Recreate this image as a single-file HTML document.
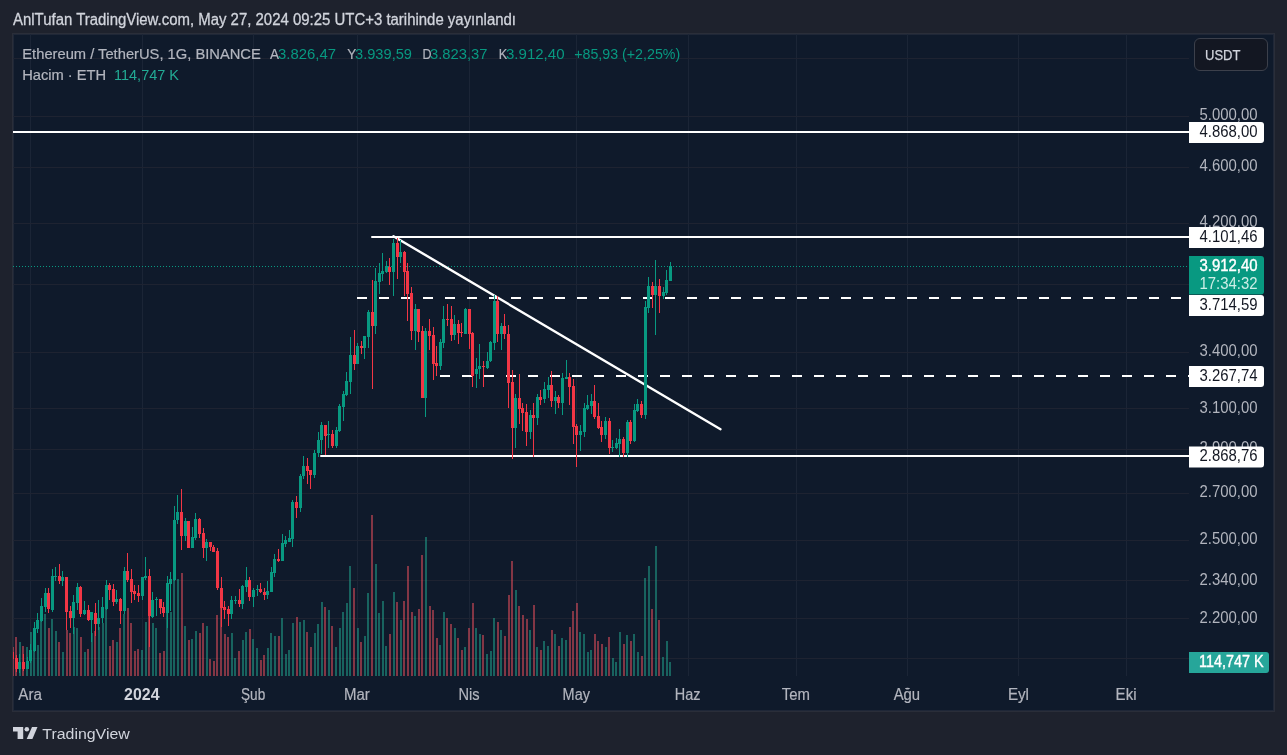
<!DOCTYPE html>
<html><head><meta charset="utf-8">
<style>
html,body{margin:0;padding:0;}
body{width:1287px;height:755px;background:#1e222d;overflow:hidden;position:relative;font-family:"Liberation Sans", Arial, sans-serif;}
.frame{position:absolute;left:12px;top:33px;width:1261px;height:677px;border:1px solid #2a2e39;background:#0f1a2b;box-shadow:inset 0 0 0 1px #1f2737;}
svg{position:absolute;left:0;top:0;}
svg text{font-family:"Liberation Sans", Arial, sans-serif;}
.ax{font-size:16px;fill:#b2b5be;}
.lb{font-size:16px;fill:#131722;}
.lw{font-size:16px;fill:#ffffff;}
.lwb{font-size:16px;fill:#ffffff;stroke:#ffffff;stroke-width:0.4px;}
.lw2{font-size:16px;fill:#cdeee6;}
.tt{font-size:16px;fill:#b2b5be;stroke:#b2b5be;stroke-width:0.2px;}
.tb{font-size:16px;fill:#d1d4dc;font-weight:bold;}
.lg{font-size:14.5px;fill:#b2b5be;stroke:#b2b5be;stroke-width:0.2px;}
.ttl{font-size:16px;fill:#d1d4dc;stroke:#d1d4dc;stroke-width:0.3px;}
.logo{font-size:15.5px;fill:#d1d4dc;}
.usdtt{font-size:15.5px;fill:#d1d4dc;stroke:#d1d4dc;stroke-width:0.25px;}
.lgv2{font-size:14.5px;fill:#22ab94;}
.lgv{font-size:14.5px;fill:#089981;}
.usdt{position:absolute;left:1193.5px;top:38px;width:72px;height:30.5px;border:1.5px solid #3c404b;border-radius:6px;background:#131722;}
</style></head><body>
<div class="frame"></div>
<div class="usdt"></div>
<svg width="1287" height="755" viewBox="0 0 1287 755">
<defs><clipPath id="pane"><rect x="13" y="34" width="1176" height="642"/></clipPath></defs>
<g><line x1="30.5" y1="34" x2="30.5" y2="676" stroke="#1b2536" stroke-width="1"/>
<line x1="142.5" y1="34" x2="142.5" y2="676" stroke="#1b2536" stroke-width="1"/>
<line x1="253.5" y1="34" x2="253.5" y2="676" stroke="#1b2536" stroke-width="1"/>
<line x1="357.5" y1="34" x2="357.5" y2="676" stroke="#1b2536" stroke-width="1"/>
<line x1="469.5" y1="34" x2="469.5" y2="676" stroke="#1b2536" stroke-width="1"/>
<line x1="576.5" y1="34" x2="576.5" y2="676" stroke="#1b2536" stroke-width="1"/>
<line x1="688.5" y1="34" x2="688.5" y2="676" stroke="#1b2536" stroke-width="1"/>
<line x1="796.5" y1="34" x2="796.5" y2="676" stroke="#1b2536" stroke-width="1"/>
<line x1="907.5" y1="34" x2="907.5" y2="676" stroke="#1b2536" stroke-width="1"/>
<line x1="1018.5" y1="34" x2="1018.5" y2="676" stroke="#1b2536" stroke-width="1"/>
<line x1="1126.5" y1="34" x2="1126.5" y2="676" stroke="#1b2536" stroke-width="1"/>
<line x1="13" y1="58.5" x2="1189" y2="58.5" stroke="#1e2331" stroke-width="1"/>
<line x1="13" y1="116.5" x2="1189" y2="116.5" stroke="#1e2331" stroke-width="1"/>
<line x1="13" y1="167.5" x2="1189" y2="167.5" stroke="#1e2331" stroke-width="1"/>
<line x1="13" y1="223.5" x2="1189" y2="223.5" stroke="#1e2331" stroke-width="1"/>
<line x1="13" y1="284.5" x2="1189" y2="284.5" stroke="#1e2331" stroke-width="1"/>
<line x1="13" y1="352.5" x2="1189" y2="352.5" stroke="#1e2331" stroke-width="1"/>
<line x1="13" y1="408.5" x2="1189" y2="408.5" stroke="#1e2331" stroke-width="1"/>
<line x1="13" y1="449.5" x2="1189" y2="449.5" stroke="#1e2331" stroke-width="1"/>
<line x1="13" y1="493.5" x2="1189" y2="493.5" stroke="#1e2331" stroke-width="1"/>
<line x1="13" y1="540.5" x2="1189" y2="540.5" stroke="#1e2331" stroke-width="1"/>
<line x1="13" y1="580.5" x2="1189" y2="580.5" stroke="#1e2331" stroke-width="1"/>
<line x1="13" y1="618.5" x2="1189" y2="618.5" stroke="#1e2331" stroke-width="1"/>
<line x1="13" y1="658.5" x2="1189" y2="658.5" stroke="#1e2331" stroke-width="1"/></g>
<g clip-path="url(#pane)">
<g shape-rendering="crispEdges"><rect x="12" y="647" width="2" height="29" fill="rgba(247,82,95,0.5)"/>
<rect x="15" y="637" width="2" height="39" fill="rgba(247,82,95,0.5)"/>
<rect x="19" y="642" width="2" height="34" fill="rgba(34,171,148,0.5)"/>
<rect x="22" y="646" width="2" height="30" fill="rgba(247,82,95,0.5)"/>
<rect x="26" y="647" width="2" height="29" fill="rgba(34,171,148,0.5)"/>
<rect x="30" y="632" width="2" height="44" fill="rgba(34,171,148,0.5)"/>
<rect x="33" y="635" width="2" height="41" fill="rgba(34,171,148,0.5)"/>
<rect x="37" y="645" width="2" height="31" fill="rgba(34,171,148,0.5)"/>
<rect x="40" y="620" width="2" height="56" fill="rgba(34,171,148,0.5)"/>
<rect x="44" y="614" width="2" height="62" fill="rgba(34,171,148,0.5)"/>
<rect x="48" y="628" width="2" height="48" fill="rgba(247,82,95,0.5)"/>
<rect x="51" y="619" width="2" height="57" fill="rgba(34,171,148,0.5)"/>
<rect x="55" y="631" width="2" height="45" fill="rgba(34,171,148,0.5)"/>
<rect x="58" y="642" width="2" height="34" fill="rgba(247,82,95,0.5)"/>
<rect x="62" y="652" width="2" height="24" fill="rgba(34,171,148,0.5)"/>
<rect x="66" y="630" width="2" height="46" fill="rgba(247,82,95,0.5)"/>
<rect x="69" y="633" width="2" height="43" fill="rgba(247,82,95,0.5)"/>
<rect x="73" y="627" width="2" height="49" fill="rgba(34,171,148,0.5)"/>
<rect x="76" y="628" width="2" height="48" fill="rgba(34,171,148,0.5)"/>
<rect x="80" y="637" width="2" height="39" fill="rgba(247,82,95,0.5)"/>
<rect x="84" y="652" width="2" height="24" fill="rgba(34,171,148,0.5)"/>
<rect x="87" y="649" width="2" height="27" fill="rgba(247,82,95,0.5)"/>
<rect x="91" y="633" width="2" height="43" fill="rgba(34,171,148,0.5)"/>
<rect x="94" y="631" width="2" height="45" fill="rgba(247,82,95,0.5)"/>
<rect x="98" y="627" width="2" height="49" fill="rgba(34,171,148,0.5)"/>
<rect x="102" y="623" width="2" height="53" fill="rgba(34,171,148,0.5)"/>
<rect x="105" y="608" width="2" height="68" fill="rgba(34,171,148,0.5)"/>
<rect x="109" y="646" width="2" height="30" fill="rgba(247,82,95,0.5)"/>
<rect x="112" y="640" width="2" height="36" fill="rgba(247,82,95,0.5)"/>
<rect x="116" y="642" width="2" height="34" fill="rgba(34,171,148,0.5)"/>
<rect x="119" y="628" width="2" height="48" fill="rgba(247,82,95,0.5)"/>
<rect x="123" y="614" width="2" height="62" fill="rgba(34,171,148,0.5)"/>
<rect x="127" y="608" width="2" height="68" fill="rgba(247,82,95,0.5)"/>
<rect x="130" y="623" width="2" height="53" fill="rgba(247,82,95,0.5)"/>
<rect x="134" y="651" width="2" height="25" fill="rgba(247,82,95,0.5)"/>
<rect x="137" y="649" width="2" height="27" fill="rgba(247,82,95,0.5)"/>
<rect x="141" y="650" width="2" height="26" fill="rgba(34,171,148,0.5)"/>
<rect x="145" y="622" width="2" height="54" fill="rgba(34,171,148,0.5)"/>
<rect x="148" y="590" width="2" height="86" fill="rgba(247,82,95,0.5)"/>
<rect x="152" y="623" width="2" height="53" fill="rgba(34,171,148,0.5)"/>
<rect x="155" y="628" width="2" height="48" fill="rgba(34,171,148,0.5)"/>
<rect x="159" y="653" width="2" height="23" fill="rgba(247,82,95,0.5)"/>
<rect x="163" y="651" width="2" height="25" fill="rgba(247,82,95,0.5)"/>
<rect x="166" y="605" width="2" height="71" fill="rgba(34,171,148,0.5)"/>
<rect x="170" y="612" width="2" height="64" fill="rgba(34,171,148,0.5)"/>
<rect x="173" y="572" width="2" height="104" fill="rgba(34,171,148,0.5)"/>
<rect x="177" y="579" width="2" height="97" fill="rgba(34,171,148,0.5)"/>
<rect x="181" y="573" width="2" height="103" fill="rgba(247,82,95,0.5)"/>
<rect x="184" y="626" width="2" height="50" fill="rgba(34,171,148,0.5)"/>
<rect x="188" y="640" width="2" height="36" fill="rgba(247,82,95,0.5)"/>
<rect x="191" y="639" width="2" height="37" fill="rgba(34,171,148,0.5)"/>
<rect x="195" y="631" width="2" height="45" fill="rgba(34,171,148,0.5)"/>
<rect x="199" y="633" width="2" height="43" fill="rgba(247,82,95,0.5)"/>
<rect x="202" y="623" width="2" height="53" fill="rgba(247,82,95,0.5)"/>
<rect x="206" y="626" width="2" height="50" fill="rgba(34,171,148,0.5)"/>
<rect x="209" y="659" width="2" height="17" fill="rgba(247,82,95,0.5)"/>
<rect x="213" y="661" width="2" height="15" fill="rgba(247,82,95,0.5)"/>
<rect x="216" y="615" width="2" height="61" fill="rgba(247,82,95,0.5)"/>
<rect x="220" y="595" width="2" height="81" fill="rgba(247,82,95,0.5)"/>
<rect x="224" y="634" width="2" height="42" fill="rgba(247,82,95,0.5)"/>
<rect x="227" y="637" width="2" height="39" fill="rgba(247,82,95,0.5)"/>
<rect x="231" y="633" width="2" height="43" fill="rgba(34,171,148,0.5)"/>
<rect x="234" y="658" width="2" height="18" fill="rgba(34,171,148,0.5)"/>
<rect x="238" y="651" width="2" height="25" fill="rgba(247,82,95,0.5)"/>
<rect x="242" y="640" width="2" height="36" fill="rgba(34,171,148,0.5)"/>
<rect x="245" y="632" width="2" height="44" fill="rgba(34,171,148,0.5)"/>
<rect x="249" y="629" width="2" height="47" fill="rgba(247,82,95,0.5)"/>
<rect x="252" y="639" width="2" height="37" fill="rgba(34,171,148,0.5)"/>
<rect x="256" y="648" width="2" height="28" fill="rgba(34,171,148,0.5)"/>
<rect x="260" y="660" width="2" height="16" fill="rgba(247,82,95,0.5)"/>
<rect x="263" y="655" width="2" height="21" fill="rgba(247,82,95,0.5)"/>
<rect x="267" y="648" width="2" height="28" fill="rgba(34,171,148,0.5)"/>
<rect x="270" y="633" width="2" height="43" fill="rgba(34,171,148,0.5)"/>
<rect x="274" y="636" width="2" height="40" fill="rgba(34,171,148,0.5)"/>
<rect x="278" y="636" width="2" height="40" fill="rgba(247,82,95,0.5)"/>
<rect x="281" y="618" width="2" height="58" fill="rgba(34,171,148,0.5)"/>
<rect x="285" y="654" width="2" height="22" fill="rgba(34,171,148,0.5)"/>
<rect x="288" y="650" width="2" height="26" fill="rgba(34,171,148,0.5)"/>
<rect x="292" y="623" width="2" height="53" fill="rgba(34,171,148,0.5)"/>
<rect x="296" y="617" width="2" height="59" fill="rgba(247,82,95,0.5)"/>
<rect x="299" y="622" width="2" height="54" fill="rgba(34,171,148,0.5)"/>
<rect x="303" y="620" width="2" height="56" fill="rgba(34,171,148,0.5)"/>
<rect x="306" y="632" width="2" height="44" fill="rgba(247,82,95,0.5)"/>
<rect x="310" y="647" width="2" height="29" fill="rgba(247,82,95,0.5)"/>
<rect x="314" y="633" width="2" height="43" fill="rgba(34,171,148,0.5)"/>
<rect x="317" y="624" width="2" height="52" fill="rgba(34,171,148,0.5)"/>
<rect x="321" y="602" width="2" height="74" fill="rgba(34,171,148,0.5)"/>
<rect x="324" y="607" width="2" height="69" fill="rgba(247,82,95,0.5)"/>
<rect x="328" y="610" width="2" height="66" fill="rgba(34,171,148,0.5)"/>
<rect x="331" y="626" width="2" height="50" fill="rgba(247,82,95,0.5)"/>
<rect x="335" y="647" width="2" height="29" fill="rgba(34,171,148,0.5)"/>
<rect x="339" y="628" width="2" height="48" fill="rgba(34,171,148,0.5)"/>
<rect x="342" y="612" width="2" height="64" fill="rgba(34,171,148,0.5)"/>
<rect x="346" y="603" width="2" height="73" fill="rgba(34,171,148,0.5)"/>
<rect x="349" y="566" width="2" height="110" fill="rgba(34,171,148,0.5)"/>
<rect x="353" y="588" width="2" height="88" fill="rgba(247,82,95,0.5)"/>
<rect x="357" y="628" width="2" height="48" fill="rgba(34,171,148,0.5)"/>
<rect x="360" y="642" width="2" height="34" fill="rgba(247,82,95,0.5)"/>
<rect x="364" y="636" width="2" height="40" fill="rgba(34,171,148,0.5)"/>
<rect x="367" y="593" width="2" height="83" fill="rgba(34,171,148,0.5)"/>
<rect x="371" y="515" width="2" height="161" fill="rgba(247,82,95,0.5)"/>
<rect x="375" y="564" width="2" height="112" fill="rgba(34,171,148,0.5)"/>
<rect x="378" y="613" width="2" height="63" fill="rgba(34,171,148,0.5)"/>
<rect x="382" y="601" width="2" height="75" fill="rgba(34,171,148,0.5)"/>
<rect x="385" y="646" width="2" height="30" fill="rgba(34,171,148,0.5)"/>
<rect x="389" y="634" width="2" height="42" fill="rgba(247,82,95,0.5)"/>
<rect x="393" y="592" width="2" height="84" fill="rgba(34,171,148,0.5)"/>
<rect x="396" y="602" width="2" height="74" fill="rgba(247,82,95,0.5)"/>
<rect x="400" y="620" width="2" height="56" fill="rgba(34,171,148,0.5)"/>
<rect x="403" y="601" width="2" height="75" fill="rgba(247,82,95,0.5)"/>
<rect x="407" y="566" width="2" height="110" fill="rgba(247,82,95,0.5)"/>
<rect x="411" y="612" width="2" height="64" fill="rgba(247,82,95,0.5)"/>
<rect x="414" y="616" width="2" height="60" fill="rgba(34,171,148,0.5)"/>
<rect x="418" y="609" width="2" height="67" fill="rgba(247,82,95,0.5)"/>
<rect x="421" y="555" width="2" height="121" fill="rgba(247,82,95,0.5)"/>
<rect x="425" y="537" width="2" height="139" fill="rgba(34,171,148,0.5)"/>
<rect x="429" y="606" width="2" height="70" fill="rgba(247,82,95,0.5)"/>
<rect x="432" y="610" width="2" height="66" fill="rgba(247,82,95,0.5)"/>
<rect x="436" y="638" width="2" height="38" fill="rgba(247,82,95,0.5)"/>
<rect x="439" y="645" width="2" height="31" fill="rgba(34,171,148,0.5)"/>
<rect x="443" y="612" width="2" height="64" fill="rgba(34,171,148,0.5)"/>
<rect x="446" y="618" width="2" height="58" fill="rgba(247,82,95,0.5)"/>
<rect x="450" y="624" width="2" height="52" fill="rgba(247,82,95,0.5)"/>
<rect x="454" y="628" width="2" height="48" fill="rgba(34,171,148,0.5)"/>
<rect x="457" y="638" width="2" height="38" fill="rgba(247,82,95,0.5)"/>
<rect x="461" y="650" width="2" height="26" fill="rgba(247,82,95,0.5)"/>
<rect x="464" y="647" width="2" height="29" fill="rgba(34,171,148,0.5)"/>
<rect x="468" y="628" width="2" height="48" fill="rgba(247,82,95,0.5)"/>
<rect x="472" y="603" width="2" height="73" fill="rgba(247,82,95,0.5)"/>
<rect x="475" y="628" width="2" height="48" fill="rgba(34,171,148,0.5)"/>
<rect x="479" y="634" width="2" height="42" fill="rgba(34,171,148,0.5)"/>
<rect x="482" y="635" width="2" height="41" fill="rgba(247,82,95,0.5)"/>
<rect x="486" y="654" width="2" height="22" fill="rgba(34,171,148,0.5)"/>
<rect x="490" y="651" width="2" height="25" fill="rgba(34,171,148,0.5)"/>
<rect x="493" y="618" width="2" height="58" fill="rgba(34,171,148,0.5)"/>
<rect x="497" y="622" width="2" height="54" fill="rgba(247,82,95,0.5)"/>
<rect x="500" y="630" width="2" height="46" fill="rgba(34,171,148,0.5)"/>
<rect x="504" y="636" width="2" height="40" fill="rgba(247,82,95,0.5)"/>
<rect x="508" y="595" width="2" height="81" fill="rgba(247,82,95,0.5)"/>
<rect x="511" y="561" width="2" height="115" fill="rgba(247,82,95,0.5)"/>
<rect x="515" y="590" width="2" height="86" fill="rgba(34,171,148,0.5)"/>
<rect x="518" y="606" width="2" height="70" fill="rgba(247,82,95,0.5)"/>
<rect x="522" y="615" width="2" height="61" fill="rgba(247,82,95,0.5)"/>
<rect x="526" y="619" width="2" height="57" fill="rgba(247,82,95,0.5)"/>
<rect x="529" y="630" width="2" height="46" fill="rgba(34,171,148,0.5)"/>
<rect x="533" y="605" width="2" height="71" fill="rgba(247,82,95,0.5)"/>
<rect x="536" y="647" width="2" height="29" fill="rgba(34,171,148,0.5)"/>
<rect x="540" y="650" width="2" height="26" fill="rgba(247,82,95,0.5)"/>
<rect x="543" y="641" width="2" height="35" fill="rgba(34,171,148,0.5)"/>
<rect x="547" y="646" width="2" height="30" fill="rgba(34,171,148,0.5)"/>
<rect x="551" y="630" width="2" height="46" fill="rgba(247,82,95,0.5)"/>
<rect x="554" y="634" width="2" height="42" fill="rgba(34,171,148,0.5)"/>
<rect x="558" y="646" width="2" height="30" fill="rgba(247,82,95,0.5)"/>
<rect x="561" y="638" width="2" height="38" fill="rgba(34,171,148,0.5)"/>
<rect x="565" y="640" width="2" height="36" fill="rgba(34,171,148,0.5)"/>
<rect x="569" y="627" width="2" height="49" fill="rgba(247,82,95,0.5)"/>
<rect x="572" y="611" width="2" height="65" fill="rgba(247,82,95,0.5)"/>
<rect x="576" y="603" width="2" height="73" fill="rgba(247,82,95,0.5)"/>
<rect x="579" y="632" width="2" height="44" fill="rgba(34,171,148,0.5)"/>
<rect x="583" y="634" width="2" height="42" fill="rgba(34,171,148,0.5)"/>
<rect x="587" y="652" width="2" height="24" fill="rgba(34,171,148,0.5)"/>
<rect x="590" y="650" width="2" height="26" fill="rgba(34,171,148,0.5)"/>
<rect x="594" y="634" width="2" height="42" fill="rgba(247,82,95,0.5)"/>
<rect x="597" y="641" width="2" height="35" fill="rgba(247,82,95,0.5)"/>
<rect x="601" y="644" width="2" height="32" fill="rgba(247,82,95,0.5)"/>
<rect x="605" y="647" width="2" height="29" fill="rgba(34,171,148,0.5)"/>
<rect x="608" y="637" width="2" height="39" fill="rgba(247,82,95,0.5)"/>
<rect x="612" y="658" width="2" height="18" fill="rgba(34,171,148,0.5)"/>
<rect x="615" y="662" width="2" height="14" fill="rgba(34,171,148,0.5)"/>
<rect x="619" y="632" width="2" height="44" fill="rgba(34,171,148,0.5)"/>
<rect x="623" y="644" width="2" height="32" fill="rgba(247,82,95,0.5)"/>
<rect x="626" y="635" width="2" height="41" fill="rgba(34,171,148,0.5)"/>
<rect x="630" y="641" width="2" height="35" fill="rgba(247,82,95,0.5)"/>
<rect x="633" y="634" width="2" height="42" fill="rgba(34,171,148,0.5)"/>
<rect x="637" y="652" width="2" height="24" fill="rgba(34,171,148,0.5)"/>
<rect x="641" y="656" width="2" height="20" fill="rgba(247,82,95,0.5)"/>
<rect x="644" y="578" width="2" height="98" fill="rgba(34,171,148,0.5)"/>
<rect x="648" y="566" width="2" height="110" fill="rgba(34,171,148,0.5)"/>
<rect x="651" y="609" width="2" height="67" fill="rgba(247,82,95,0.5)"/>
<rect x="655" y="546" width="2" height="130" fill="rgba(34,171,148,0.5)"/>
<rect x="658" y="620" width="2" height="56" fill="rgba(247,82,95,0.5)"/>
<rect x="662" y="657" width="2" height="19" fill="rgba(34,171,148,0.5)"/>
<rect x="666" y="641" width="2" height="35" fill="rgba(34,171,148,0.5)"/>
<rect x="669" y="662" width="2" height="14" fill="rgba(34,171,148,0.5)"/></g>
<line x1="13" y1="266.5" x2="1189" y2="266.5" stroke="#089981" stroke-width="1" stroke-dasharray="1 2"/>
<line x1="13" y1="132" x2="1189" y2="132" stroke="#ffffff" stroke-width="2"/>
<line x1="372" y1="237" x2="1189" y2="237" stroke="#ffffff" stroke-width="2" stroke-linecap="round"/>
<line x1="357" y1="298" x2="1189" y2="298" stroke="#ffffff" stroke-width="2" stroke-dasharray="10 12"/>
<line x1="440" y1="376" x2="1189" y2="376" stroke="#ffffff" stroke-width="2" stroke-dasharray="10 12"/>
<line x1="321" y1="456" x2="1189" y2="456" stroke="#ffffff" stroke-width="2" stroke-linecap="round"/>
<line x1="393.5" y1="236.2" x2="720.5" y2="429.2" stroke="#ffffff" stroke-width="2.4" stroke-linecap="round"/>
<g shape-rendering="crispEdges"><rect x="12" y="648" width="1" height="12" fill="#f23645"/>
<rect x="11" y="652" width="3" height="7" fill="#f23645"/>
<rect x="16" y="655" width="1" height="17" fill="#f23645"/>
<rect x="15" y="658" width="3" height="11" fill="#f23645"/>
<rect x="19" y="654" width="1" height="19" fill="#089981"/>
<rect x="18" y="662" width="3" height="7" fill="#089981"/>
<rect x="23" y="654" width="1" height="17" fill="#f23645"/>
<rect x="22" y="662" width="3" height="7" fill="#f23645"/>
<rect x="27" y="657" width="1" height="12" fill="#089981"/>
<rect x="26" y="661" width="3" height="8" fill="#089981"/>
<rect x="30" y="644" width="1" height="19" fill="#089981"/>
<rect x="29" y="650" width="3" height="11" fill="#089981"/>
<rect x="34" y="622" width="1" height="30" fill="#089981"/>
<rect x="33" y="628" width="3" height="23" fill="#089981"/>
<rect x="37" y="613" width="1" height="20" fill="#089981"/>
<rect x="36" y="620" width="3" height="9" fill="#089981"/>
<rect x="41" y="598" width="1" height="24" fill="#089981"/>
<rect x="40" y="606" width="3" height="15" fill="#089981"/>
<rect x="45" y="588" width="1" height="24" fill="#089981"/>
<rect x="44" y="593" width="3" height="14" fill="#089981"/>
<rect x="48" y="588" width="1" height="25" fill="#f23645"/>
<rect x="47" y="593" width="3" height="16" fill="#f23645"/>
<rect x="52" y="569" width="1" height="43" fill="#089981"/>
<rect x="51" y="576" width="3" height="34" fill="#089981"/>
<rect x="55" y="567" width="1" height="14" fill="#089981"/>
<rect x="54" y="576" width="3" height="1" fill="#089981"/>
<rect x="59" y="564" width="1" height="20" fill="#f23645"/>
<rect x="58" y="576" width="3" height="5" fill="#f23645"/>
<rect x="62" y="571" width="1" height="15" fill="#089981"/>
<rect x="61" y="577" width="3" height="4" fill="#089981"/>
<rect x="66" y="577" width="1" height="53" fill="#f23645"/>
<rect x="65" y="577" width="3" height="35" fill="#f23645"/>
<rect x="70" y="606" width="1" height="22" fill="#f23645"/>
<rect x="69" y="611" width="3" height="7" fill="#f23645"/>
<rect x="73" y="595" width="1" height="39" fill="#089981"/>
<rect x="72" y="602" width="3" height="16" fill="#089981"/>
<rect x="77" y="583" width="1" height="27" fill="#089981"/>
<rect x="76" y="587" width="3" height="16" fill="#089981"/>
<rect x="80" y="586" width="1" height="31" fill="#f23645"/>
<rect x="79" y="587" width="3" height="27" fill="#f23645"/>
<rect x="84" y="601" width="1" height="14" fill="#089981"/>
<rect x="83" y="610" width="3" height="4" fill="#089981"/>
<rect x="88" y="605" width="1" height="16" fill="#f23645"/>
<rect x="87" y="610" width="3" height="10" fill="#f23645"/>
<rect x="91" y="612" width="1" height="30" fill="#089981"/>
<rect x="90" y="612" width="3" height="8" fill="#089981"/>
<rect x="95" y="603" width="1" height="33" fill="#f23645"/>
<rect x="94" y="613" width="3" height="11" fill="#f23645"/>
<rect x="98" y="600" width="1" height="30" fill="#089981"/>
<rect x="97" y="618" width="3" height="6" fill="#089981"/>
<rect x="102" y="597" width="1" height="26" fill="#089981"/>
<rect x="101" y="607" width="3" height="11" fill="#089981"/>
<rect x="106" y="580" width="1" height="30" fill="#089981"/>
<rect x="105" y="585" width="3" height="24" fill="#089981"/>
<rect x="109" y="583" width="1" height="17" fill="#f23645"/>
<rect x="108" y="585" width="3" height="5" fill="#f23645"/>
<rect x="113" y="584" width="1" height="22" fill="#f23645"/>
<rect x="112" y="589" width="3" height="13" fill="#f23645"/>
<rect x="116" y="590" width="1" height="14" fill="#089981"/>
<rect x="115" y="599" width="3" height="3" fill="#089981"/>
<rect x="120" y="598" width="1" height="26" fill="#f23645"/>
<rect x="119" y="599" width="3" height="12" fill="#f23645"/>
<rect x="124" y="567" width="1" height="47" fill="#089981"/>
<rect x="123" y="571" width="3" height="40" fill="#089981"/>
<rect x="127" y="553" width="1" height="29" fill="#f23645"/>
<rect x="126" y="571" width="3" height="9" fill="#f23645"/>
<rect x="131" y="569" width="1" height="34" fill="#f23645"/>
<rect x="130" y="579" width="3" height="13" fill="#f23645"/>
<rect x="134" y="585" width="1" height="15" fill="#f23645"/>
<rect x="133" y="591" width="3" height="3" fill="#f23645"/>
<rect x="138" y="585" width="1" height="17" fill="#f23645"/>
<rect x="137" y="593" width="3" height="3" fill="#f23645"/>
<rect x="142" y="577" width="1" height="23" fill="#089981"/>
<rect x="141" y="577" width="3" height="19" fill="#089981"/>
<rect x="145" y="557" width="1" height="23" fill="#089981"/>
<rect x="144" y="576" width="3" height="2" fill="#089981"/>
<rect x="149" y="569" width="1" height="78" fill="#f23645"/>
<rect x="148" y="576" width="3" height="40" fill="#f23645"/>
<rect x="152" y="592" width="1" height="26" fill="#089981"/>
<rect x="151" y="600" width="3" height="17" fill="#089981"/>
<rect x="156" y="597" width="1" height="19" fill="#089981"/>
<rect x="155" y="599" width="3" height="1" fill="#089981"/>
<rect x="160" y="599" width="1" height="15" fill="#f23645"/>
<rect x="159" y="599" width="3" height="9" fill="#f23645"/>
<rect x="163" y="602" width="1" height="15" fill="#f23645"/>
<rect x="162" y="607" width="3" height="6" fill="#f23645"/>
<rect x="167" y="576" width="1" height="52" fill="#089981"/>
<rect x="166" y="583" width="3" height="30" fill="#089981"/>
<rect x="170" y="572" width="1" height="39" fill="#089981"/>
<rect x="169" y="579" width="3" height="5" fill="#089981"/>
<rect x="174" y="506" width="1" height="75" fill="#089981"/>
<rect x="173" y="520" width="3" height="60" fill="#089981"/>
<rect x="177" y="495" width="1" height="29" fill="#089981"/>
<rect x="176" y="512" width="3" height="8" fill="#089981"/>
<rect x="181" y="489" width="1" height="61" fill="#f23645"/>
<rect x="180" y="512" width="3" height="24" fill="#f23645"/>
<rect x="185" y="518" width="1" height="23" fill="#089981"/>
<rect x="184" y="521" width="3" height="15" fill="#089981"/>
<rect x="188" y="521" width="1" height="27" fill="#f23645"/>
<rect x="187" y="521" width="3" height="27" fill="#f23645"/>
<rect x="192" y="527" width="1" height="21" fill="#089981"/>
<rect x="191" y="537" width="3" height="11" fill="#089981"/>
<rect x="195" y="513" width="1" height="27" fill="#089981"/>
<rect x="194" y="519" width="3" height="19" fill="#089981"/>
<rect x="199" y="518" width="1" height="20" fill="#f23645"/>
<rect x="198" y="519" width="3" height="15" fill="#f23645"/>
<rect x="203" y="528" width="1" height="30" fill="#f23645"/>
<rect x="202" y="533" width="3" height="15" fill="#f23645"/>
<rect x="206" y="539" width="1" height="22" fill="#089981"/>
<rect x="205" y="542" width="3" height="6" fill="#089981"/>
<rect x="210" y="542" width="1" height="9" fill="#f23645"/>
<rect x="209" y="542" width="3" height="5" fill="#f23645"/>
<rect x="213" y="545" width="1" height="7" fill="#f23645"/>
<rect x="212" y="547" width="3" height="5" fill="#f23645"/>
<rect x="217" y="548" width="1" height="42" fill="#f23645"/>
<rect x="216" y="551" width="3" height="37" fill="#f23645"/>
<rect x="221" y="577" width="1" height="50" fill="#f23645"/>
<rect x="220" y="588" width="3" height="20" fill="#f23645"/>
<rect x="224" y="601" width="1" height="18" fill="#f23645"/>
<rect x="223" y="607" width="3" height="3" fill="#f23645"/>
<rect x="228" y="606" width="1" height="20" fill="#f23645"/>
<rect x="227" y="609" width="3" height="5" fill="#f23645"/>
<rect x="231" y="596" width="1" height="23" fill="#089981"/>
<rect x="230" y="600" width="3" height="14" fill="#089981"/>
<rect x="235" y="596" width="1" height="8" fill="#089981"/>
<rect x="234" y="600" width="3" height="1" fill="#089981"/>
<rect x="239" y="589" width="1" height="18" fill="#f23645"/>
<rect x="238" y="600" width="3" height="4" fill="#f23645"/>
<rect x="242" y="585" width="1" height="24" fill="#089981"/>
<rect x="241" y="586" width="3" height="18" fill="#089981"/>
<rect x="246" y="567" width="1" height="25" fill="#089981"/>
<rect x="245" y="580" width="3" height="7" fill="#089981"/>
<rect x="249" y="577" width="1" height="24" fill="#f23645"/>
<rect x="248" y="580" width="3" height="17" fill="#f23645"/>
<rect x="253" y="588" width="1" height="19" fill="#089981"/>
<rect x="252" y="590" width="3" height="7" fill="#089981"/>
<rect x="257" y="585" width="1" height="11" fill="#089981"/>
<rect x="256" y="589" width="3" height="1" fill="#089981"/>
<rect x="260" y="583" width="1" height="10" fill="#f23645"/>
<rect x="259" y="589" width="3" height="3" fill="#f23645"/>
<rect x="264" y="588" width="1" height="12" fill="#f23645"/>
<rect x="263" y="592" width="3" height="3" fill="#f23645"/>
<rect x="267" y="581" width="1" height="18" fill="#089981"/>
<rect x="266" y="591" width="3" height="4" fill="#089981"/>
<rect x="271" y="567" width="1" height="25" fill="#089981"/>
<rect x="270" y="572" width="3" height="20" fill="#089981"/>
<rect x="274" y="554" width="1" height="23" fill="#089981"/>
<rect x="273" y="559" width="3" height="14" fill="#089981"/>
<rect x="278" y="549" width="1" height="13" fill="#f23645"/>
<rect x="277" y="559" width="3" height="2" fill="#f23645"/>
<rect x="282" y="534" width="1" height="27" fill="#089981"/>
<rect x="281" y="543" width="3" height="18" fill="#089981"/>
<rect x="285" y="536" width="1" height="11" fill="#089981"/>
<rect x="284" y="540" width="3" height="4" fill="#089981"/>
<rect x="289" y="530" width="1" height="12" fill="#089981"/>
<rect x="288" y="538" width="3" height="4" fill="#089981"/>
<rect x="292" y="500" width="1" height="47" fill="#089981"/>
<rect x="291" y="502" width="3" height="37" fill="#089981"/>
<rect x="296" y="496" width="1" height="22" fill="#f23645"/>
<rect x="295" y="502" width="3" height="6" fill="#f23645"/>
<rect x="300" y="474" width="1" height="38" fill="#089981"/>
<rect x="299" y="476" width="3" height="32" fill="#089981"/>
<rect x="303" y="456" width="1" height="23" fill="#089981"/>
<rect x="302" y="466" width="3" height="10" fill="#089981"/>
<rect x="307" y="458" width="1" height="26" fill="#f23645"/>
<rect x="306" y="466" width="3" height="5" fill="#f23645"/>
<rect x="310" y="470" width="1" height="19" fill="#f23645"/>
<rect x="309" y="470" width="3" height="5" fill="#f23645"/>
<rect x="314" y="450" width="1" height="28" fill="#089981"/>
<rect x="313" y="453" width="3" height="22" fill="#089981"/>
<rect x="318" y="432" width="1" height="25" fill="#089981"/>
<rect x="317" y="440" width="3" height="13" fill="#089981"/>
<rect x="321" y="422" width="1" height="32" fill="#089981"/>
<rect x="320" y="425" width="3" height="15" fill="#089981"/>
<rect x="325" y="425" width="1" height="30" fill="#f23645"/>
<rect x="324" y="425" width="3" height="11" fill="#f23645"/>
<rect x="328" y="421" width="1" height="27" fill="#089981"/>
<rect x="327" y="434" width="3" height="1" fill="#089981"/>
<rect x="332" y="430" width="1" height="18" fill="#f23645"/>
<rect x="331" y="434" width="3" height="12" fill="#f23645"/>
<rect x="336" y="427" width="1" height="21" fill="#089981"/>
<rect x="335" y="430" width="3" height="16" fill="#089981"/>
<rect x="339" y="404" width="1" height="28" fill="#089981"/>
<rect x="338" y="406" width="3" height="25" fill="#089981"/>
<rect x="343" y="391" width="1" height="30" fill="#089981"/>
<rect x="342" y="394" width="3" height="13" fill="#089981"/>
<rect x="346" y="372" width="1" height="24" fill="#089981"/>
<rect x="345" y="381" width="3" height="14" fill="#089981"/>
<rect x="350" y="337" width="1" height="57" fill="#089981"/>
<rect x="349" y="355" width="3" height="27" fill="#089981"/>
<rect x="354" y="330" width="1" height="40" fill="#f23645"/>
<rect x="353" y="355" width="3" height="9" fill="#f23645"/>
<rect x="357" y="343" width="1" height="21" fill="#089981"/>
<rect x="356" y="346" width="3" height="18" fill="#089981"/>
<rect x="361" y="341" width="1" height="13" fill="#f23645"/>
<rect x="360" y="346" width="3" height="2" fill="#f23645"/>
<rect x="364" y="336" width="1" height="23" fill="#089981"/>
<rect x="363" y="336" width="3" height="12" fill="#089981"/>
<rect x="368" y="310" width="1" height="38" fill="#089981"/>
<rect x="367" y="312" width="3" height="25" fill="#089981"/>
<rect x="372" y="280" width="1" height="109" fill="#f23645"/>
<rect x="371" y="312" width="3" height="14" fill="#f23645"/>
<rect x="375" y="268" width="1" height="66" fill="#089981"/>
<rect x="374" y="281" width="3" height="45" fill="#089981"/>
<rect x="379" y="263" width="1" height="31" fill="#089981"/>
<rect x="378" y="273" width="3" height="9" fill="#089981"/>
<rect x="382" y="253" width="1" height="28" fill="#089981"/>
<rect x="381" y="271" width="3" height="3" fill="#089981"/>
<rect x="386" y="261" width="1" height="12" fill="#089981"/>
<rect x="385" y="266" width="3" height="6" fill="#089981"/>
<rect x="389" y="258" width="1" height="27" fill="#f23645"/>
<rect x="388" y="267" width="3" height="5" fill="#f23645"/>
<rect x="393" y="239" width="1" height="57" fill="#089981"/>
<rect x="392" y="243" width="3" height="29" fill="#089981"/>
<rect x="397" y="238" width="1" height="41" fill="#f23645"/>
<rect x="396" y="243" width="3" height="14" fill="#f23645"/>
<rect x="400" y="240" width="1" height="23" fill="#089981"/>
<rect x="399" y="252" width="3" height="5" fill="#089981"/>
<rect x="404" y="251" width="1" height="45" fill="#f23645"/>
<rect x="403" y="252" width="3" height="20" fill="#f23645"/>
<rect x="407" y="263" width="1" height="58" fill="#f23645"/>
<rect x="406" y="271" width="3" height="23" fill="#f23645"/>
<rect x="411" y="287" width="1" height="53" fill="#f23645"/>
<rect x="410" y="293" width="3" height="38" fill="#f23645"/>
<rect x="415" y="304" width="1" height="46" fill="#089981"/>
<rect x="414" y="309" width="3" height="22" fill="#089981"/>
<rect x="418" y="309" width="1" height="33" fill="#f23645"/>
<rect x="417" y="309" width="3" height="23" fill="#f23645"/>
<rect x="422" y="326" width="1" height="72" fill="#f23645"/>
<rect x="421" y="331" width="3" height="67" fill="#f23645"/>
<rect x="425" y="328" width="1" height="89" fill="#089981"/>
<rect x="424" y="331" width="3" height="67" fill="#089981"/>
<rect x="429" y="319" width="1" height="31" fill="#f23645"/>
<rect x="428" y="331" width="3" height="5" fill="#f23645"/>
<rect x="433" y="327" width="1" height="53" fill="#f23645"/>
<rect x="432" y="335" width="3" height="29" fill="#f23645"/>
<rect x="436" y="346" width="1" height="30" fill="#f23645"/>
<rect x="435" y="363" width="3" height="3" fill="#f23645"/>
<rect x="440" y="339" width="1" height="31" fill="#089981"/>
<rect x="439" y="342" width="3" height="24" fill="#089981"/>
<rect x="443" y="306" width="1" height="42" fill="#089981"/>
<rect x="442" y="319" width="3" height="24" fill="#089981"/>
<rect x="447" y="304" width="1" height="22" fill="#f23645"/>
<rect x="446" y="319" width="3" height="1" fill="#f23645"/>
<rect x="451" y="306" width="1" height="35" fill="#f23645"/>
<rect x="450" y="319" width="3" height="16" fill="#f23645"/>
<rect x="454" y="315" width="1" height="25" fill="#089981"/>
<rect x="453" y="324" width="3" height="11" fill="#089981"/>
<rect x="458" y="320" width="1" height="24" fill="#f23645"/>
<rect x="457" y="324" width="3" height="9" fill="#f23645"/>
<rect x="461" y="323" width="1" height="14" fill="#f23645"/>
<rect x="460" y="332" width="3" height="1" fill="#f23645"/>
<rect x="465" y="308" width="1" height="26" fill="#089981"/>
<rect x="464" y="309" width="3" height="25" fill="#089981"/>
<rect x="469" y="309" width="1" height="40" fill="#f23645"/>
<rect x="468" y="309" width="3" height="25" fill="#f23645"/>
<rect x="472" y="332" width="1" height="55" fill="#f23645"/>
<rect x="471" y="333" width="3" height="43" fill="#f23645"/>
<rect x="476" y="358" width="1" height="30" fill="#089981"/>
<rect x="475" y="369" width="3" height="5" fill="#089981"/>
<rect x="479" y="344" width="1" height="35" fill="#089981"/>
<rect x="478" y="366" width="3" height="3" fill="#089981"/>
<rect x="483" y="361" width="1" height="26" fill="#f23645"/>
<rect x="482" y="366" width="3" height="1" fill="#f23645"/>
<rect x="487" y="352" width="1" height="17" fill="#089981"/>
<rect x="486" y="361" width="3" height="7" fill="#089981"/>
<rect x="490" y="341" width="1" height="21" fill="#089981"/>
<rect x="489" y="342" width="3" height="19" fill="#089981"/>
<rect x="494" y="295" width="1" height="55" fill="#089981"/>
<rect x="493" y="301" width="3" height="42" fill="#089981"/>
<rect x="497" y="296" width="1" height="46" fill="#f23645"/>
<rect x="496" y="301" width="3" height="33" fill="#f23645"/>
<rect x="501" y="323" width="1" height="27" fill="#089981"/>
<rect x="500" y="326" width="3" height="8" fill="#089981"/>
<rect x="504" y="314" width="1" height="25" fill="#f23645"/>
<rect x="503" y="326" width="3" height="8" fill="#f23645"/>
<rect x="508" y="325" width="1" height="83" fill="#f23645"/>
<rect x="507" y="334" width="3" height="49" fill="#f23645"/>
<rect x="512" y="370" width="1" height="89" fill="#f23645"/>
<rect x="511" y="382" width="3" height="46" fill="#f23645"/>
<rect x="515" y="394" width="1" height="54" fill="#089981"/>
<rect x="514" y="398" width="3" height="30" fill="#089981"/>
<rect x="519" y="374" width="1" height="50" fill="#f23645"/>
<rect x="518" y="398" width="3" height="11" fill="#f23645"/>
<rect x="522" y="403" width="1" height="28" fill="#f23645"/>
<rect x="521" y="408" width="3" height="5" fill="#f23645"/>
<rect x="526" y="404" width="1" height="42" fill="#f23645"/>
<rect x="525" y="412" width="3" height="20" fill="#f23645"/>
<rect x="530" y="410" width="1" height="29" fill="#089981"/>
<rect x="529" y="415" width="3" height="17" fill="#089981"/>
<rect x="533" y="403" width="1" height="54" fill="#f23645"/>
<rect x="532" y="415" width="3" height="3" fill="#f23645"/>
<rect x="537" y="394" width="1" height="31" fill="#089981"/>
<rect x="536" y="397" width="3" height="21" fill="#089981"/>
<rect x="540" y="390" width="1" height="15" fill="#f23645"/>
<rect x="539" y="397" width="3" height="3" fill="#f23645"/>
<rect x="544" y="382" width="1" height="21" fill="#089981"/>
<rect x="543" y="389" width="3" height="10" fill="#089981"/>
<rect x="548" y="377" width="1" height="21" fill="#089981"/>
<rect x="547" y="385" width="3" height="5" fill="#089981"/>
<rect x="551" y="371" width="1" height="36" fill="#f23645"/>
<rect x="550" y="385" width="3" height="16" fill="#f23645"/>
<rect x="555" y="391" width="1" height="23" fill="#089981"/>
<rect x="554" y="397" width="3" height="4" fill="#089981"/>
<rect x="558" y="395" width="1" height="13" fill="#f23645"/>
<rect x="557" y="397" width="3" height="6" fill="#f23645"/>
<rect x="562" y="373" width="1" height="42" fill="#089981"/>
<rect x="561" y="378" width="3" height="25" fill="#089981"/>
<rect x="566" y="360" width="1" height="19" fill="#089981"/>
<rect x="565" y="377" width="3" height="2" fill="#089981"/>
<rect x="569" y="373" width="1" height="32" fill="#f23645"/>
<rect x="568" y="377" width="3" height="10" fill="#f23645"/>
<rect x="573" y="379" width="1" height="65" fill="#f23645"/>
<rect x="572" y="386" width="3" height="41" fill="#f23645"/>
<rect x="576" y="424" width="1" height="43" fill="#f23645"/>
<rect x="575" y="426" width="3" height="9" fill="#f23645"/>
<rect x="580" y="425" width="1" height="26" fill="#089981"/>
<rect x="579" y="431" width="3" height="4" fill="#089981"/>
<rect x="584" y="403" width="1" height="34" fill="#089981"/>
<rect x="583" y="408" width="3" height="24" fill="#089981"/>
<rect x="587" y="395" width="1" height="15" fill="#089981"/>
<rect x="586" y="405" width="3" height="4" fill="#089981"/>
<rect x="591" y="394" width="1" height="20" fill="#089981"/>
<rect x="590" y="401" width="3" height="5" fill="#089981"/>
<rect x="594" y="385" width="1" height="34" fill="#f23645"/>
<rect x="593" y="401" width="3" height="16" fill="#f23645"/>
<rect x="598" y="403" width="1" height="26" fill="#f23645"/>
<rect x="597" y="416" width="3" height="12" fill="#f23645"/>
<rect x="601" y="421" width="1" height="21" fill="#f23645"/>
<rect x="600" y="427" width="3" height="8" fill="#f23645"/>
<rect x="605" y="417" width="1" height="22" fill="#089981"/>
<rect x="604" y="421" width="3" height="14" fill="#089981"/>
<rect x="609" y="418" width="1" height="36" fill="#f23645"/>
<rect x="608" y="421" width="3" height="27" fill="#f23645"/>
<rect x="612" y="440" width="1" height="12" fill="#089981"/>
<rect x="611" y="447" width="3" height="1" fill="#089981"/>
<rect x="616" y="438" width="1" height="11" fill="#089981"/>
<rect x="615" y="443" width="3" height="5" fill="#089981"/>
<rect x="619" y="429" width="1" height="28" fill="#089981"/>
<rect x="618" y="439" width="3" height="5" fill="#089981"/>
<rect x="623" y="437" width="1" height="20" fill="#f23645"/>
<rect x="622" y="439" width="3" height="14" fill="#f23645"/>
<rect x="627" y="420" width="1" height="37" fill="#089981"/>
<rect x="626" y="422" width="3" height="31" fill="#089981"/>
<rect x="630" y="420" width="1" height="24" fill="#f23645"/>
<rect x="629" y="422" width="3" height="19" fill="#f23645"/>
<rect x="634" y="404" width="1" height="38" fill="#089981"/>
<rect x="633" y="410" width="3" height="31" fill="#089981"/>
<rect x="637" y="399" width="1" height="13" fill="#089981"/>
<rect x="636" y="404" width="3" height="7" fill="#089981"/>
<rect x="641" y="401" width="1" height="17" fill="#f23645"/>
<rect x="640" y="404" width="3" height="11" fill="#f23645"/>
<rect x="645" y="301" width="1" height="118" fill="#089981"/>
<rect x="644" y="307" width="3" height="108" fill="#089981"/>
<rect x="648" y="277" width="1" height="36" fill="#089981"/>
<rect x="647" y="286" width="3" height="22" fill="#089981"/>
<rect x="652" y="282" width="1" height="26" fill="#f23645"/>
<rect x="651" y="286" width="3" height="9" fill="#f23645"/>
<rect x="655" y="260" width="1" height="75" fill="#089981"/>
<rect x="654" y="286" width="3" height="9" fill="#089981"/>
<rect x="659" y="279" width="1" height="34" fill="#f23645"/>
<rect x="658" y="286" width="3" height="10" fill="#f23645"/>
<rect x="663" y="287" width="1" height="12" fill="#089981"/>
<rect x="662" y="292" width="3" height="4" fill="#089981"/>
<rect x="666" y="270" width="1" height="25" fill="#089981"/>
<rect x="665" y="280" width="3" height="13" fill="#089981"/>
<rect x="670" y="262" width="1" height="19" fill="#089981"/>
<rect x="669" y="266" width="3" height="15" fill="#089981"/></g>
</g>
<g><text x="1257.5" y="120" text-anchor="end" class="ax" textLength="58" lengthAdjust="spacingAndGlyphs">5.000,00</text>
<text x="1257.5" y="171" text-anchor="end" class="ax" textLength="58" lengthAdjust="spacingAndGlyphs">4.600,00</text>
<text x="1257.5" y="227" text-anchor="end" class="ax" textLength="58" lengthAdjust="spacingAndGlyphs">4.200,00</text>
<text x="1257.5" y="356" text-anchor="end" class="ax" textLength="58" lengthAdjust="spacingAndGlyphs">3.400,00</text>
<text x="1257.5" y="413" text-anchor="end" class="ax" textLength="58" lengthAdjust="spacingAndGlyphs">3.100,00</text>
<text x="1257.5" y="453" text-anchor="end" class="ax" textLength="58" lengthAdjust="spacingAndGlyphs">2.900,00</text>
<text x="1257.5" y="497" text-anchor="end" class="ax" textLength="58" lengthAdjust="spacingAndGlyphs">2.700,00</text>
<text x="1257.5" y="544" text-anchor="end" class="ax" textLength="58" lengthAdjust="spacingAndGlyphs">2.500,00</text>
<text x="1257.5" y="585" text-anchor="end" class="ax" textLength="58" lengthAdjust="spacingAndGlyphs">2.340,00</text>
<text x="1257.5" y="623" text-anchor="end" class="ax" textLength="58" lengthAdjust="spacingAndGlyphs">2.200,00</text>
<path d="M1189 122 H1261 Q1264 122 1264 125 V140 Q1264 143 1261 143 H1189 Z" fill="#ffffff"/>
<text x="1257.5" y="137" text-anchor="end" class="lb" textLength="58" lengthAdjust="spacingAndGlyphs">4.868,00</text>
<path d="M1189 227 H1261 Q1264 227 1264 230 V245 Q1264 248 1261 248 H1189 Z" fill="#ffffff"/>
<text x="1257.5" y="242" text-anchor="end" class="lb" textLength="58" lengthAdjust="spacingAndGlyphs">4.101,46</text>
<path d="M1189 256 H1261 Q1264 256 1264 259 V291.5 Q1264 294.5 1261 294.5 H1189 Z" fill="#089981"/>
<text x="1257.5" y="271" text-anchor="end" class="lwb" textLength="58" lengthAdjust="spacingAndGlyphs">3.912,40</text>
<text x="1257.5" y="289" text-anchor="end" class="lw2" textLength="58" lengthAdjust="spacingAndGlyphs">17:34:32</text>
<path d="M1189 295 H1261 Q1264 295 1264 298 V313 Q1264 316 1261 316 H1189 Z" fill="#ffffff"/>
<text x="1257.5" y="310" text-anchor="end" class="lb" textLength="58" lengthAdjust="spacingAndGlyphs">3.714,59</text>
<path d="M1189 366 H1261 Q1264 366 1264 369 V384 Q1264 387 1261 387 H1189 Z" fill="#ffffff"/>
<text x="1257.5" y="381" text-anchor="end" class="lb" textLength="58" lengthAdjust="spacingAndGlyphs">3.267,74</text>
<path d="M1189 446.5 H1261 Q1264 446.5 1264 449.5 V464.5 Q1264 467.5 1261 467.5 H1189 Z" fill="#ffffff"/>
<text x="1257.5" y="461" text-anchor="end" class="lb" textLength="58" lengthAdjust="spacingAndGlyphs">2.868,76</text>
<path d="M1189 652 H1266 Q1269 652 1269 655 V670 Q1269 673 1266 673 H1189 Z" fill="#26a69a"/>
<text x="1199" y="667" class="lwb" textLength="64.5" lengthAdjust="spacingAndGlyphs">114,747 K</text></g>
<g><text x="18.3" y="699.5" class="tt" textLength="23.6" lengthAdjust="spacingAndGlyphs">Ara</text>
<text x="124.1" y="699.5" class="tb" textLength="35.4" lengthAdjust="spacingAndGlyphs">2024</text>
<text x="241.0" y="699.5" class="tt" textLength="24.2" lengthAdjust="spacingAndGlyphs">Şub</text>
<text x="344.0" y="699.5" class="tt" textLength="25.8" lengthAdjust="spacingAndGlyphs">Mar</text>
<text x="458.5" y="699.5" class="tt" textLength="21.1" lengthAdjust="spacingAndGlyphs">Nis</text>
<text x="562.6" y="699.5" class="tt" textLength="27.3" lengthAdjust="spacingAndGlyphs">May</text>
<text x="674.8" y="699.5" class="tt" textLength="25.7" lengthAdjust="spacingAndGlyphs">Haz</text>
<text x="781.7" y="699.5" class="tt" textLength="28.2" lengthAdjust="spacingAndGlyphs">Tem</text>
<text x="893.7" y="699.5" class="tt" textLength="26.4" lengthAdjust="spacingAndGlyphs">Ağu</text>
<text x="1007.9" y="699.5" class="tt" textLength="21.1" lengthAdjust="spacingAndGlyphs">Eyl</text>
<text x="1115.6" y="699.5" class="tt" textLength="20.9" lengthAdjust="spacingAndGlyphs">Eki</text></g>
<text x="22.3" y="59" class="lg" textLength="238.5" lengthAdjust="spacingAndGlyphs">Ethereum / TetherUS, 1G, BINANCE</text>
<text x="270" y="59" class="lg" textLength="9" lengthAdjust="spacingAndGlyphs">A</text><text x="278" y="59" class="lgv" textLength="58" lengthAdjust="spacingAndGlyphs">3.826,47</text>
<text x="347.3" y="59" class="lg" textLength="9" lengthAdjust="spacingAndGlyphs">Y</text><text x="355" y="59" class="lgv" textLength="57" lengthAdjust="spacingAndGlyphs">3.939,59</text>
<text x="422.5" y="59" class="lg" textLength="9" lengthAdjust="spacingAndGlyphs">D</text><text x="430" y="59" class="lgv" textLength="57.5" lengthAdjust="spacingAndGlyphs">3.823,37</text>
<text x="498.7" y="59" class="lg" textLength="8.5" lengthAdjust="spacingAndGlyphs">K</text><text x="506" y="59" class="lgv" textLength="58.5" lengthAdjust="spacingAndGlyphs">3.912,40</text>
<text x="574.2" y="59" class="lgv" textLength="106" lengthAdjust="spacingAndGlyphs">+85,93 (+2,25%)</text>
<text x="22.2" y="79.5" class="lg" textLength="84" lengthAdjust="spacingAndGlyphs">Hacim · ETH</text>
<text x="114" y="79.5" class="lgv2" textLength="65" lengthAdjust="spacingAndGlyphs">114,747 K</text>
<text x="13" y="25" class="ttl" textLength="503" lengthAdjust="spacingAndGlyphs">AnlTufan TradingView.com, May 27, 2024 09:25 UTC+3 tarihinde yayınlandı</text>
<text x="42.3" y="739" class="logo" textLength="87.5" lengthAdjust="spacingAndGlyphs">TradingView</text>
<text x="1205" y="60" class="usdtt" textLength="35.5" lengthAdjust="spacingAndGlyphs">USDT</text>
<g fill="#d1d4dc">
<path d="M13 727 H23.2 V739 H17.6 V731.6 H13 Z"/>
<circle cx="26.8" cy="729.3" r="2.3"/>
<path d="M32 727 H37.5 L32.4 739 H26.7 Z"/>
</g>
</svg>
</body></html>
